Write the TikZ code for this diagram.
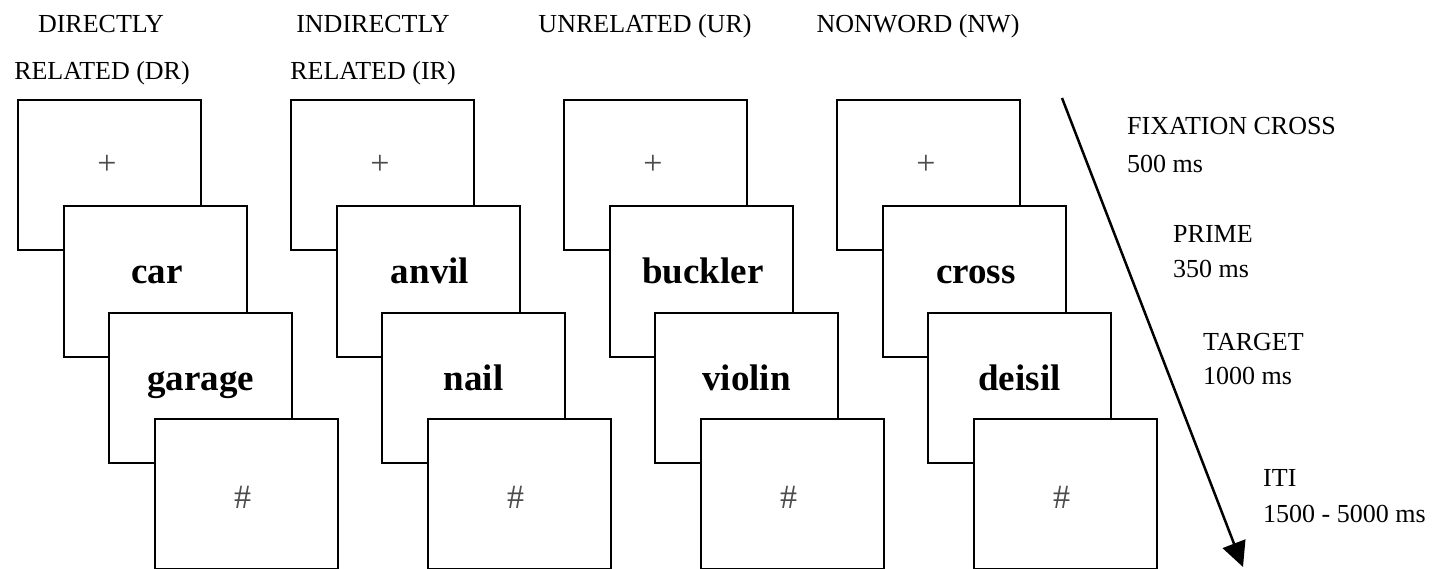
\documentclass[tikz,border=0pt]{standalone}
\usepackage{fontspec}
\setmainfont{Liberation Serif}
\usetikzlibrary{arrows.meta,calc}
\tikzset{
  scr/.style={draw=black, fill=white, line width=2pt, minimum width=183pt, minimum height=150pt, inner sep=0pt, anchor=north west},
  word/.style={font=\fontsize{37}{40}\selectfont\bfseries, inner sep=0pt, anchor=base},
  sym/.style={font=\fontsize{34}{38}\selectfont, text=black!70, inner sep=0pt},
  head/.style={font=\fontsize{26}{28}\selectfont, inner sep=0pt, anchor=base},
  lab/.style={font=\fontsize{26}{28}\selectfont, inner sep=0pt, anchor=base west},
  timearrow/.style={line width=2.5pt, -{Triangle[length=25pt,width=24pt]}}
}
\begin{document}
\begin{tikzpicture}[x=1pt,y=-1pt]
\useasboundingbox (0,0) rectangle (1445,569);
% headings
\node[head] (h1a) at (101,33) {DIRECTLY};
\node[head] (h1b) at (102,80) {RELATED (DR)};
\node[head] (h2a) at (373,33) {INDIRECTLY};
\node[head] (h2b) at (373,80) {RELATED (IR)};
\node[head] (h3) at (645,33) {UNRELATED (UR)};
\node[head] (h4) at (918,33) {NONWORD (NW)};
% columns of screens
\foreach \c/\p/\t [count=\i from 0] in {1/car/garage, 2/anvil/nail, 3/buckler/violin, 4/cross/deisil} {
  \node[scr] (b\c-1) at ({17+273*\i},99) {};
  \node[sym] (fx\c) at ($(b\c-1.north west)+(90,66)$) {+};
  \node[scr] (b\c-2) at ({62.5+273*\i},205.5) {};
  \node[word] (w\c-p) at ($(b\c-2.north)+(2,78)$) {\p};
  \node[scr] (b\c-3) at ({108+273*\i},312) {};
  \node[word] (w\c-t) at ($(b\c-3.north)+(0,78)$) {\t};
  \node[scr] (b\c-4) at ({153.5+273*\i},417.5) {};
  \node[sym] (hs\c) at ($(b\c-4.north west)+(89,80)$) {\#};
}
% time arrow
\coordinate (as) at (1062,98);
\coordinate (ae) at (1243,567);
\draw[timearrow] (as) -- (ae);
% timing labels
\node[lab] (l1a) at (1127,135) {FIXATION CROSS};
\node[lab] (l1b) at (1127,173) {500 ms};
\node[lab] (l2a) at (1173,243) {PRIME};
\node[lab] (l2b) at (1173,277) {350 ms};
\node[lab] (l3a) at (1203,350) {TARGET};
\node[lab] (l3b) at (1203,384) {1000 ms};
\node[lab] (l4a) at (1263,486) {ITI};
\node[lab] (l4b) at (1263,522) {1500 - 5000 ms};
\end{tikzpicture}
\end{document}
